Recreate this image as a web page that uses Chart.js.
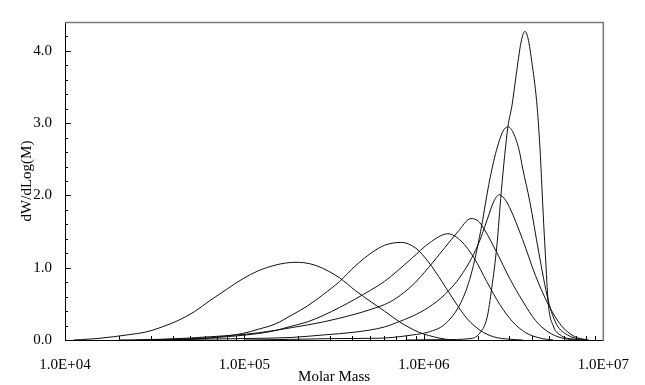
<!DOCTYPE html>
<html><head><meta charset="utf-8">
<script src="https://cdn.jsdelivr.net/npm/chart.js@4.4.1/dist/chart.umd.min.js"></script>
<style>html,body{margin:0;padding:0;background:#fff}#wrap{width:645px;height:385px}</style>
</head><body><div id="wrap"><canvas id="c" width="645" height="385"></canvas></div>
<script>
// ---- data ----
const xMajorTicks = [1e4, 1e5, 1e6, 1e7];
const xTickLabels = ["1.0E+04", "1.0E+05", "1.0E+06", "1.0E+07"];
const yMajorTicks = [0, 1, 2, 3, 4];
const yTickLabels = ["0.0", "1.0", "2.0", "3.0", "4.0"];
const xTitle = "Molar Mass";
const yTitle = "dW/dLog(M)";

const mass1 = [1.12e4,1.23e4,1.51e4,1.86e4,2.29e4,2.82e4,3.47e4,4.27e4,5.25e4,6.46e4,7.94e4,9.77e4,1.20e5,1.48e5,1.70e5,1.91e5,2.14e5,2.51e5,2.95e5,3.39e5,4.17e5,5.13e5,6.03e5,7.33e5,9.33e5,1.20e6,1.41e6];
const dw1   = [0,0.005,0.02,0.045,0.075,0.11,0.18,0.27,0.39,0.55,0.70,0.845,0.96,1.035,1.065,1.075,1.07,1.03,0.95,0.86,0.68,0.52,0.40,0.25,0.11,0.03,0];

const mass2 = [3.16e4,5.25e4,7.08e4,9.77e4,1.20e5,1.48e5,1.82e5,2.24e5,2.75e5,3.39e5,4.17e5,5.13e5,6.03e5,7.48e5,9.02e5,1.06e6,1.26e6,1.48e6,1.75e6,2.07e6,2.44e6,3.01e6,3.55e6];
const dw2   = [0,0.01,0.04,0.09,0.15,0.22,0.34,0.47,0.63,0.81,1.03,1.21,1.31,1.35,1.27,1.08,0.81,0.54,0.29,0.13,0.045,0.01,0];

const mass3 = [2.51e4,5.25e4,7.94e4,1.20e5,1.48e5,1.82e5,2.24e5,2.75e5,3.39e5,4.17e5,5.13e5,6.03e5,7.08e5,8.65e5,1.07e6,1.36e6,1.61e6,1.91e6,2.24e6,2.65e6,3.13e6,3.70e6,4.55e6,5.25e6];
const dw3   = [0,0.02,0.045,0.09,0.13,0.19,0.25,0.34,0.45,0.57,0.70,0.81,0.95,1.14,1.34,1.47,1.37,1.13,0.81,0.49,0.25,0.10,0.02,0];

const mass4 = [2.0e4,3.47e4,6.46e4,1.20e5,1.82e5,2.75e5,4.17e5,5.01e5,6.03e5,7.03e5,8.65e5,1.06e6,1.31e6,1.55e6,1.83e6,2.0e6,2.16e6,2.55e6,3.01e6,3.55e6,4.19e6,4.94e6,5.83e6,6.92e6];
const dw4   = [0,0.01,0.045,0.10,0.17,0.25,0.36,0.42,0.49,0.58,0.76,1.0,1.28,1.50,1.68,1.65,1.54,1.21,0.85,0.54,0.27,0.11,0.03,0];

const mass5 = [3.16e4,5.25e4,1.0e5,1.82e5,2.75e5,4.17e5,6.03e5,7.03e5,8.65e5,1.06e6,1.31e6,1.61e6,1.99e6,2.25e6,2.455e6,2.63e6,2.82e6,3.01e6,3.55e6,4.19e6,4.94e6,5.83e6,6.89e6,8.13e6];
const dw5   = [0,0.01,0.02,0.035,0.07,0.11,0.18,0.24,0.33,0.45,0.63,0.89,1.30,1.66,1.92,2.01,1.95,1.83,1.39,0.89,0.49,0.20,0.05,0];

const mass6 = [1.0e5,2.0e5,3.16e5,5.71e5,8.65e5,1.06e6,1.31e6,1.61e6,1.83e6,2.07e6,2.30e6,2.51e6,2.75e6,2.94e6,3.16e6,3.40e6,3.55e6,3.89e6,4.37e6,4.94e6,5.48e6,6.31e6,7.48e6,8.32e6];
const dw6   = [0,0.01,0.02,0.025,0.07,0.11,0.22,0.52,0.90,1.50,2.15,2.58,2.88,2.95,2.86,2.62,2.38,1.92,1.21,0.54,0.22,0.07,0.01,0];

const mass7 = [7.94e5,1.26e6,1.83e6,2.07e6,2.25e6,2.39e6,2.55e6,2.70e6,2.82e6,2.94e6,3.10e6,3.27e6,3.48e6,3.65e6,3.80e6,4.02e6,4.28e6,4.46e6,4.59e6,4.75e6,4.94e6,5.25e6,5.83e6,6.92e6,7.94e6];
const dw7   = [0,0.005,0.02,0.11,0.31,0.72,1.30,2.05,2.55,2.95,3.25,3.67,4.12,4.27,4.18,3.80,3.22,2.55,1.90,1.20,0.50,0.20,0.06,0.01,0];

const seriesMass = [mass1, mass2, mass3, mass4, mass5, mass6, mass7];
const seriesDw = [dw1, dw2, dw3, dw4, dw5, dw6, dw7];

// ---- chart ----
const FONT = "'Liberation Serif', 'Times New Roman', serif";
const datasets = seriesMass.map((m, k) => ({
  data: m.map((x, i) => ({x: x, y: seriesDw[k][i]})),
  borderColor: '#111',
  borderWidth: 1,
  pointRadius: 0,
  fill: false,
  cubicInterpolationMode: 'monotone'
}));

const frame = {
  id: 'frame',
  afterDraw(chart) {
    const {ctx, chartArea: a, scales} = chart;
    const xs = scales.x, ys = scales.y;
    ctx.save();
    ctx.strokeStyle = '#000';
    ctx.lineWidth = 1;
    ctx.beginPath();
    for (let i = 0; i <= 22; i++) {
      const v = i * 0.2;
      const y = Math.round(ys.getPixelForValue(v)) + 0.5;
      const len = (i % 5 === 0) ? 6 : 3;
      ctx.moveTo(a.left, y); ctx.lineTo(a.left + len, y);
    }
    for (let d = 4; d <= 6; d++) {
      for (let k = 1; k <= 9; k++) {
        const v = k * Math.pow(10, d);
        const x = Math.round(xs.getPixelForValue(v)) + 0.5;
        const len = (k === 1) ? 6 : 4;
        ctx.moveTo(x, a.bottom); ctx.lineTo(x, a.bottom - len);
      }
    }
    ctx.stroke();
    ctx.beginPath();
    ctx.moveTo(a.left + 0.5, a.top); ctx.lineTo(a.left + 0.5, a.bottom + 0.5);
    ctx.lineTo(a.right, a.bottom + 0.5);
    ctx.stroke();
    ctx.strokeStyle = '#7a7a7a';
    ctx.lineWidth = 1.6;
    ctx.beginPath();
    ctx.moveTo(a.left, a.top + 0.5); ctx.lineTo(a.right, a.top + 0.5);
    ctx.lineTo(a.right, a.bottom + 1);
    ctx.stroke();
    ctx.restore();
  }
};

new Chart(document.getElementById('c'), {
  type: 'line',
  data: {datasets},
  plugins: [frame],
  options: {
    responsive: false,
    animation: false,
    events: [],
    layout: {padding: {top: 12, right: 25, left: 0, bottom: 0}},
    plugins: {legend: {display: false}, tooltip: {enabled: false}},
    scales: {
      x: {
        type: 'logarithmic',
        min: 1e4, max: 1e7,
        grid: {display: false, drawTicks: false},
        border: {display: false},
        afterBuildTicks: s => { s.ticks = xMajorTicks.map(v => ({value: v})); },
        afterFit: s => { s.height = 45; },
        ticks: {
          autoSkip: false, maxRotation: 0, padding: 16,
          color: '#000', font: {family: FONT, size: 15},
          callback: (v, i) => xTickLabels[i]
        },
        title: {display: true, text: xTitle, color: '#000',
                font: {family: FONT, size: 15, lineHeight: 1}, padding: {top: 0, bottom: 0}}
      },
      y: {
        type: 'linear',
        min: 0, max: 4.4,
        grid: {display: false, drawTicks: false},
        border: {display: false},
        afterBuildTicks: s => { s.ticks = yMajorTicks.map(v => ({value: v})); },
        afterFit: s => { s.width = 65; },
        ticks: {
          padding: 13,
          color: '#000', font: {family: FONT, size: 15},
          callback: (v, i) => yTickLabels[i]
        },
        title: {display: true, text: yTitle, color: '#000',
                font: {family: FONT, size: 15}, padding: {top: 18, bottom: 0}}
      }
    }
  }
});
</script>
</body></html>
